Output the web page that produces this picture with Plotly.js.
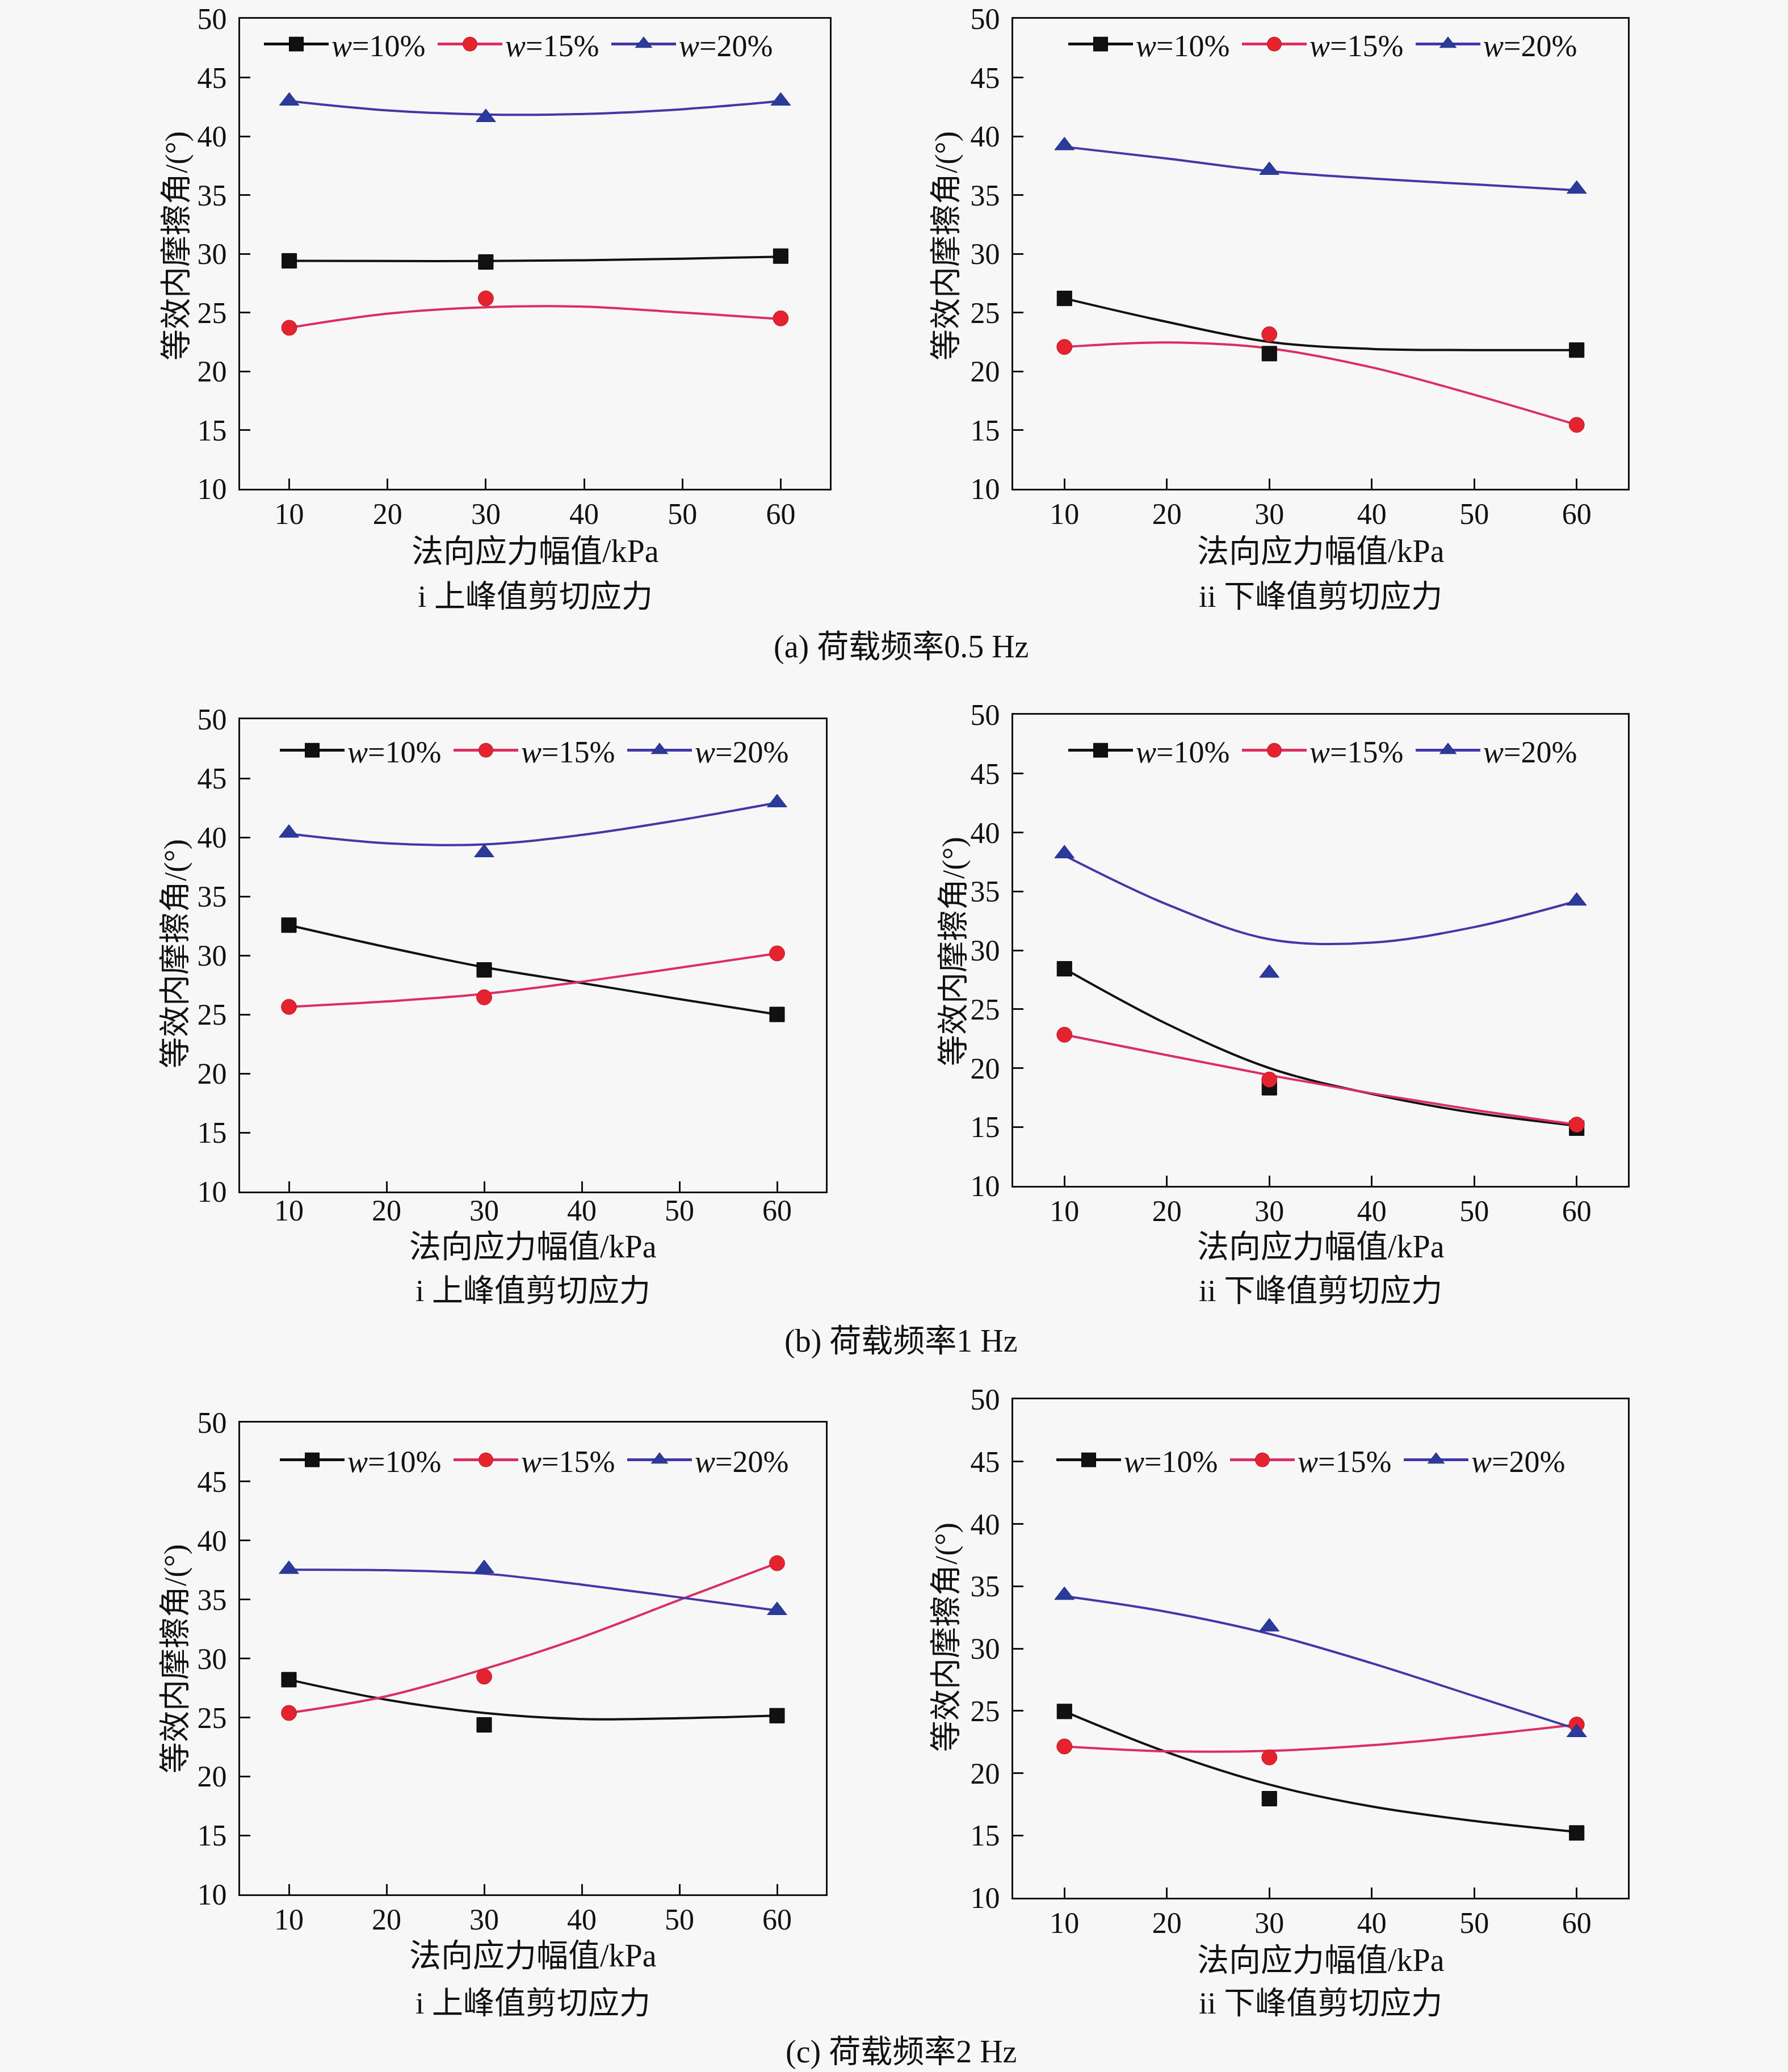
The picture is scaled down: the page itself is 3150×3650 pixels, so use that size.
<!DOCTYPE html>
<html><head><meta charset="utf-8">
<script src="https://cdn.plot.ly/plotly-3.0.1.min.js"></script>
<style>html,body{margin:0;padding:0;background:#f7f7f7}</style>
</head><body><div id="chart" style="width:3150px;height:3650px"></div>
<script>
// ---------------- data ----------------
const stressX = [10, 30, 60];                 // 法向应力幅值 / kPa (measured points)
const fitX = [10, 20, 30, 40, 50, 60];        // abscissae where the fitted curves were read
const seriesNames = ['<i>w</i>=10%', '<i>w</i>=15%', '<i>w</i>=20%'];
const xTickVals = [10, 20, 30, 40, 50, 60];
const yTickVals = [10, 15, 20, 25, 30, 35, 40, 45, 50];
const xTitleText = '法向应力幅值/kPa';
const yTitleText = '等效内摩擦角/(°)';
const panelLabels = ['i 上峰值剪切应力', 'ii 下峰值剪切应力'];
const captions = ['(a) 荷载频率0.5 Hz', '(b) 荷载频率1 Hz', '(c) 荷载频率2 Hz'];

// (a) 0.5 Hz — i 上峰值
const a1_w10 = [29.4, 29.3, 29.8];
const a1_w15 = [23.7, 26.2, 24.5];
const a1_w20 = [43.0, 41.6, 43.0];
const a1_w10_fit = [29.4, 29.38, 29.38, 29.45, 29.58, 29.75];
const a1_w15_fit = [23.7, 24.9, 25.45, 25.5, 25.0, 24.45];
const a1_w20_fit = [43.0, 42.2, 41.85, 41.9, 42.3, 43.0];
// (a) 0.5 Hz — ii 下峰值
const a2_w10 = [26.2, 21.5, 21.8];
const a2_w15 = [22.07, 23.15, 15.44];
const a2_w20 = [39.2, 37.1, 35.5];
const a2_w10_fit = [26.2, 24.2, 22.5, 21.9, 21.8, 21.8];
const a2_w15_fit = [22.07, 22.45, 21.95, 20.33, 18.0, 15.44];
const a2_w20_fit = [39.1, 38.1, 37.03, 36.4, 35.9, 35.4];
// (b) 1 Hz — i 上峰值
const b1_w10 = [32.56, 28.77, 25.0];
const b1_w15 = [25.64, 26.45, 30.17];
const b1_w20 = [40.36, 38.7, 42.93];
const b1_w10_fit = [32.56, 30.7, 29.0, 27.66, 26.3, 25.0];
const b1_w15_fit = [25.64, 26.1, 26.74, 27.77, 28.95, 30.17];
const b1_w20_fit = [40.3, 39.5, 39.4, 40.2, 41.46, 42.93];
// (b) 1 Hz — ii 下峰值
const b2_w10 = [28.43, 18.33, 14.9];
const b2_w15 = [22.83, 19.03, 15.2];
const b2_w20 = [38.2, 28.06, 34.18];
const b2_w10_fit = [28.43, 23.75, 20.0, 17.8, 16.2, 15.1];
const b2_w15_fit = [22.83, 21.1, 19.4, 17.85, 16.45, 15.2];
const b2_w20_fit = [38.05, 33.9, 30.94, 30.65, 31.97, 34.18];
// (c) 2 Hz — i 上峰值
const c1_w10 = [28.2, 24.37, 25.15];
const c1_w15 = [25.38, 28.46, 38.08];
const c1_w20 = [37.56, 37.63, 34.07];
const c1_w10_fit = [28.2, 26.5, 25.38, 24.86, 24.93, 25.15];
const c1_w15_fit = [25.38, 26.8, 29.1, 31.8, 34.96, 38.08];
const c1_w20_fit = [37.52, 37.48, 37.19, 36.26, 35.18, 34.07];
// (c) 2 Hz — ii 下峰值
const c2_w10 = [24.95, 17.95, 15.2];
const c2_w15 = [22.14, 21.26, 23.9];
const c2_w20 = [34.27, 31.74, 23.26];
const c2_w10_fit = [24.95, 21.68, 19.08, 17.32, 16.16, 15.28];
const c2_w15_fit = [22.14, 21.75, 21.79, 22.24, 23.0, 23.9];
const c2_w20_fit = [34.2, 32.94, 31.18, 28.82, 26.18, 23.54];

// ---------------- styling ----------------
const W = 3150, H = 3650;
const FONT = 'Liberation Serif, "Noto Sans CJK SC", serif';
const lineColors = ['#111111', '#db2f60', '#4238a8'];
const markerColors = ['#111111', '#e5232e', '#2a3b9c'];
const markerEdge = ['#000000', '#b81f2f', '#1f2c80'];
const symbols = ['square', 'circle', 'triangle-up'];
const markerSizes = [26, 27, 30];

// panel frames in pixels: [left, right, top, bottom]
const frames = [
  [423, 1462, 33, 861], [1785, 2868, 33, 861],
  [423, 1455, 1267, 2099], [1785, 2868, 1259, 2089],
  [423, 1455, 2506, 3337], [1785, 2868, 2465, 3343]
];
const xLabelStandoff = [-3, -3, -14, -3, -3, -3];
const legendPos = [[465, 78], [1882, 78], [493, 1322], [1882, 1322], [493, 2572], [1861, 2572]];
const xTitleY = [971, 971, 2196, 2196, 3445, 3453];
const yTitlePos = [[310, 433], [1666, 433], [308, 1680], [1679, 1676], [308, 2922], [1666, 2884]];
const subY = [1050, 1050, 2273, 2273, 3528, 3528];
const capY = [1139, 2362, 3614];

const panels = [
  [[a1_w10, a1_w15, a1_w20], [a1_w10_fit, a1_w15_fit, a1_w20_fit]],
  [[a2_w10, a2_w15, a2_w20], [a2_w10_fit, a2_w15_fit, a2_w20_fit]],
  [[b1_w10, b1_w15, b1_w20], [b1_w10_fit, b1_w15_fit, b1_w20_fit]],
  [[b2_w10, b2_w15, b2_w20], [b2_w10_fit, b2_w15_fit, b2_w20_fit]],
  [[c1_w10, c1_w15, c1_w20], [c1_w10_fit, c1_w15_fit, c1_w20_fit]],
  [[c2_w10, c2_w15, c2_w20], [c2_w10_fit, c2_w15_fit, c2_w20_fit]]
];

const traces = [];
const layout = {
  width: W, height: H,
  margin: {l: 0, r: 0, t: 0, b: 0},
  paper_bgcolor: '#f7f7f7', plot_bgcolor: '#f7f7f7',
  font: {family: FONT, size: 52, color: '#111'},
  showlegend: true,
  annotations: []
};

function paperText(text, xPx, yPx, size, angle) {
  return {xref: 'paper', yref: 'paper', x: xPx / W, y: 1 - yPx / H,
    xanchor: 'center', yanchor: 'middle', showarrow: false, textangle: angle || 0,
    text: text, font: {family: FONT, size: size, color: '#111'}};
}

panels.forEach((p, i) => {
  const k = i + 1;
  const xa = 'x' + (k === 1 ? '' : k), ya = 'y' + (k === 1 ? '' : k);
  const lg = 'legend' + (k === 1 ? '' : k);
  const [pts, fits] = p;
  for (let s = 0; s < 3; s++) {
    traces.push({x: fitX, y: fits[s], xaxis: xa, yaxis: ya, mode: 'lines', type: 'scatter',
      line: {color: lineColors[s], width: 4, shape: 'spline', smoothing: 1},
      showlegend: false, hoverinfo: 'skip'});
  }
  for (let s = 0; s < 3; s++) {
    traces.push({x: stressX, y: pts[s], xaxis: xa, yaxis: ya, mode: 'markers', type: 'scatter',
      marker: {symbol: symbols[s], size: markerSizes[s], color: markerColors[s], line: {color: markerEdge[s], width: 1}},
      showlegend: false});
  }
  for (let s = 0; s < 3; s++) {
    // legend-only entry (no data): line–marker–line key as in the original
    traces.push({x: [null], y: [null], xaxis: xa, yaxis: ya, mode: 'lines+markers', type: 'scatter',
      name: seriesNames[s], legend: lg,
      line: {color: lineColors[s], width: 5},
      marker: {symbol: symbols[s], size: 16, color: markerColors[s], line: {color: markerEdge[s], width: 0.7}}});
  }
  const f = frames[i];
  const axCommon = {
    showline: true, mirror: true, linecolor: '#111', linewidth: 3,
    ticks: 'inside', ticklen: 18, tickwidth: 3, tickcolor: '#111',
    showgrid: false, zeroline: false, fixedrange: true,
    ticklabeloverflow: 'allow',
    tickfont: {family: FONT, size: 52, color: '#111'}
  };
  layout['xaxis' + (k === 1 ? '' : k)] = Object.assign({}, axCommon, {
    domain: [f[0] / W, f[1] / W], anchor: ya, range: [5, 65],
    tickvals: xTickVals, ticktext: xTickVals.map(String), ticklabelstandoff: xLabelStandoff[i]
  });
  layout['yaxis' + (k === 1 ? '' : k)] = Object.assign({}, axCommon, {
    domain: [1 - f[3] / H, 1 - f[2] / H], anchor: xa, range: [10, 50],
    tickvals: yTickVals, ticktext: yTickVals.map(String), ticklabelstandoff: 10
  });
  const lp = legendPos[i];
  layout[lg] = {
    x: (lp[0] - 5) / W, y: 1 - lp[1] / H, xanchor: 'left', yanchor: 'middle',
    orientation: 'h', bgcolor: 'rgba(0,0,0,0)', borderwidth: 0,
    font: {family: FONT, size: 54, color: '#111'},
    itemwidth: 114, entrywidth: 177, entrywidthmode: 'pixels',
    itemclick: false, itemdoubleclick: false
  };
  const cx = (f[0] + f[1]) / 2;
  layout.annotations.push(paperText(xTitleText, cx, xTitleY[i], 56));
  layout.annotations.push(paperText(yTitleText, yTitlePos[i][0], yTitlePos[i][1], 55, -90));
  layout.annotations.push(paperText(panelLabels[i % 2], cx, subY[i], 55));
});

captions.forEach((c, j) => {
  layout.annotations.push(paperText(c, 1588, capY[j], 56));
});

Plotly.newPlot('chart', traces, layout, {staticPlot: true, displayModeBar: false}).then(gd => {
  // enlarge the legend keys' markers to the size used in the original figure
  gd.querySelectorAll('g.legendpoints path.scatterpts').forEach(pth => {
    const t = pth.getAttribute('transform') || '';
    pth.setAttribute('transform', t + ' scale(1.55)');
  });
});
</script>
</body></html>
